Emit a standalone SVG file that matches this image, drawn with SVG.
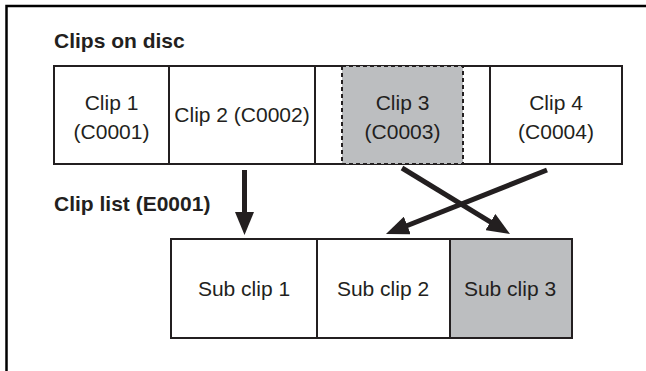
<svg xmlns="http://www.w3.org/2000/svg" width="646" height="371" viewBox="0 0 646 371">
<defs>
<style>
.cell{fill:#fff;stroke:#231f20;stroke-width:2}
.gray{fill:#bcbec0}
.dash{fill:#bcbec0;stroke:#231f20;stroke-width:2;stroke-dasharray:4 3}
.t{font-family:"Liberation Sans",Arial,sans-serif;font-size:21px;fill:#231f20;text-anchor:middle}
.h{font-family:"Liberation Sans",Arial,sans-serif;font-size:21px;font-weight:bold;fill:#231f20}
.arr{stroke:#231f20;stroke-width:5;fill:none;marker-end:url(#ah)}
</style>
<marker id="ah" viewBox="0 0 23 19" refX="8" refY="9.5" markerWidth="23" markerHeight="19" markerUnits="userSpaceOnUse" orient="auto">
<path d="M0,0 L23,9.5 L0,19 z" fill="#231f20"/>
</marker>
</defs>
<rect width="646" height="371" fill="#fff"/>
<path d="M6.5,371 V6 H646" fill="none" stroke="#000" stroke-width="2.5"/>
<text class="h" x="54" y="48">Clips on disc</text>
<text class="h" x="54" y="211">Clip list (E0001)</text>
<g id="clip1">
<rect class="cell" x="54" y="66" width="115" height="98"/>
<text class="t" x="111.5" y="110">Clip 1</text>
<text class="t" x="111.5" y="139">(C0001)</text>
</g>
<g id="clip2">
<rect class="cell" x="169" y="66" width="146" height="98"/>
<text class="t" x="242" y="122">Clip 2 (C0002)</text>
</g>
<g id="clip3">
<rect class="cell" x="315" y="66" width="175" height="98"/>
<rect class="dash" x="342" y="66" width="121" height="98"/>
<text class="t" x="402.5" y="110">Clip 3</text>
<text class="t" x="402.5" y="139">(C0003)</text>
</g>
<g id="clip4">
<rect class="cell" x="490" y="66" width="132" height="98"/>
<text class="t" x="556" y="110">Clip 4</text>
<text class="t" x="556" y="139">(C0004)</text>
</g>
<g id="sub1">
<rect class="cell" x="171" y="239" width="146" height="99"/>
<text class="t" x="244" y="296">Sub clip 1</text>
</g>
<g id="sub2">
<rect class="cell" x="317" y="239" width="133" height="99"/>
<text class="t" x="383" y="296">Sub clip 2</text>
</g>
<g id="sub3">
<rect class="cell gray" x="450" y="239" width="122" height="99"/>
<text class="t" x="510" y="296">Sub clip 3</text>
</g>
<g id="connectors">
<line class="arr" x1="244.5" y1="170" x2="244.5" y2="220"/>
<line class="arr" x1="402" y1="168" x2="497.2" y2="226.2"/>
<line class="arr" x1="547" y1="170" x2="399.9" y2="228.5"/>
</g>
</svg>
